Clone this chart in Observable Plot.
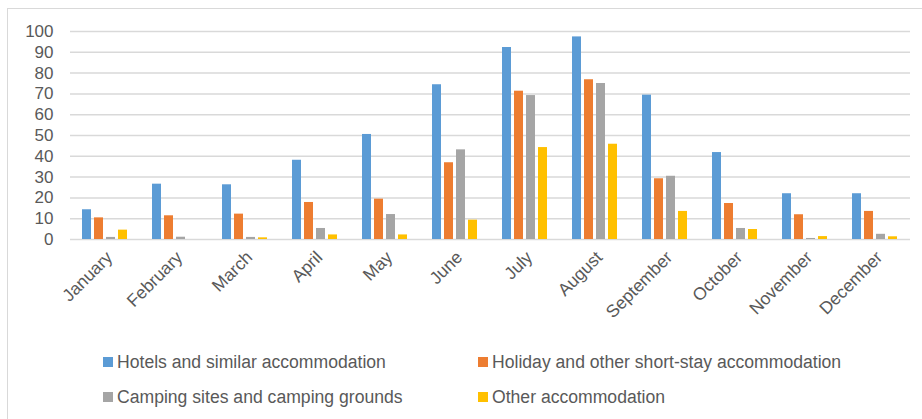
<!DOCTYPE html>
<html>
<head>
<meta charset="utf-8">
<script src="https://cdn.jsdelivr.net/npm/d3@7"></script>
<script src="https://cdn.jsdelivr.net/npm/@observablehq/plot@0.6"></script>
<style>
  html, body { margin: 0; padding: 0; background: #fff; }
  body { width: 922px; height: 419px; position: relative; overflow: hidden;
         font-family: "Liberation Sans", "DejaVu Sans", sans-serif; color: #595959; }
  #frame { position: absolute; left: 7px; top: 8px; width: 930px; height: 430px;
           border-left: 1px solid #d9d9d9; border-top: 1px solid #d9d9d9; box-sizing: border-box; }
  #chart { position: absolute; left: 0; top: 0; }
  .legend { position: absolute; left: 0; top: 0; font-size: 17.6px; }
  .item { position: absolute; display: flex; align-items: center; white-space: nowrap; }
  .sw { width: 10px; height: 10px; margin-right: 4px; }
</style>
</head>
<body>
<div id="frame"></div>
<div id="chart"></div>
<div class="legend" id="legend"></div>
<script>
const months = ["January","February","March","April","May","June","July","August","September","October","November","December"];
const series = ["Hotels and similar accommodation","Holiday and other short-stay accommodation","Camping sites and camping grounds","Other accommodation"];
const colors = ["#5b9bd5","#ed7d31","#a5a5a5","#ffc000"];
const hotels  = [14.3, 26.6, 26.3, 38.1, 50.5, 74.4, 92.3, 97.4, 69.4, 41.8, 22.0, 22.0];
const holiday = [10.4, 11.4, 12.2, 17.8, 19.4, 36.9, 71.3, 76.8, 29.2, 17.3, 11.9, 13.5];
const camping = [1.0, 1.1, 1.0, 5.3, 12.0, 43.1, 69.2, 75.0, 30.4, 5.3, 0.5, 2.5];
const other   = [4.5, 0, 0.8, 2.2, 2.2, 9.3, 44.2, 45.8, 13.5, 4.8, 1.4, 1.3];
const yTicks = [0,10,20,30,40,50,60,70,80,90,100];

const cols = [hotels, holiday, camping, other];
const data = months.flatMap((m, i) => series.map((s, j) => ({month: m, series: s, value: cols[j][i]})));

const chart = Plot.plot({
  width: 922,
  height: 340,
  marginLeft: 68,
  marginRight: 10,
  marginTop: 31,
  marginBottom: 101,
  style: {fontFamily: "Liberation Sans, sans-serif", fontSize: "17px", color: "#595959", background: "transparent"},
  fx: {domain: months, padding: 0, label: null, axis: null},
  x: {domain: series, axis: null, paddingInner: 0.21, paddingOuter: 0.875},
  y: {domain: [0, 100], ticks: yTicks, label: null, tickSize: 0, tickPadding: 17},
  color: {domain: series, range: colors},
  marks: [
    Plot.ruleY(yTicks, {stroke: "#d9d9d9", strokeWidth: 1.5}),
    Plot.barY(data, {fx: "month", x: "series", y: "value", fill: "series"}),
    Plot.axisFx({anchor: "bottom", tickRotate: -45, tickSize: 0, tickPadding: 15, dx: 4, label: null, fontSize: 17.5})
  ]
});
document.getElementById("chart").appendChild(chart);

const pos = [[103, 362], [478, 362], [103, 397], [478, 397]];
const legend = document.getElementById("legend");
series.forEach((s, i) => {
  const it = document.createElement("div");
  it.className = "item";
  it.style.left = pos[i][0] + "px";
  it.style.top = (pos[i][1] - 10) + "px";
  it.style.height = "20px";
  const sw = document.createElement("span");
  sw.className = "sw";
  sw.style.background = colors[i];
  const t = document.createElement("span");
  t.textContent = s;
  it.appendChild(sw); it.appendChild(t);
  legend.appendChild(it);
});
</script>
</body>
</html>
